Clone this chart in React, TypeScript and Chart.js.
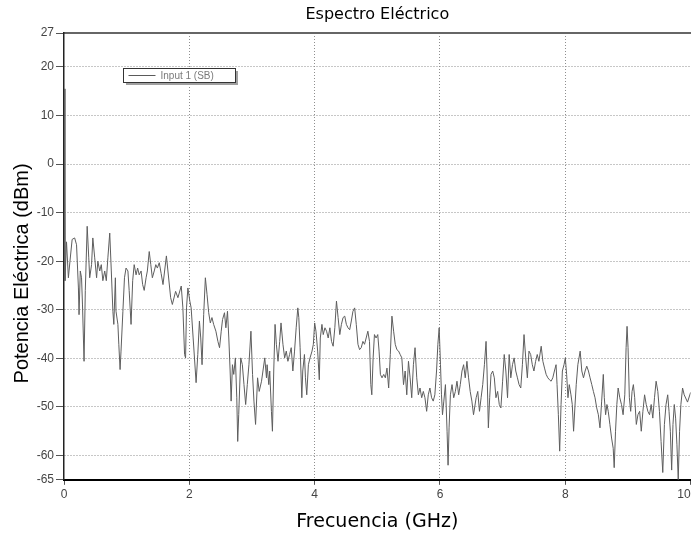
import React, { useEffect, useRef } from 'react';
import { Chart, registerables } from 'chart.js';

Chart.register(...registerables);

const chartTitle = 'Espectro Eléctrico';
const xAxisTitle = 'Frecuencia (GHz)';
const yAxisTitle = 'Potencia Eléctrica (dBm)';
const seriesName = 'Input 1 (SB)';

const xTickValues = [0, 2, 4, 6, 8, 10];
const yTickValues = [27, 20, 10, 0, -10, -20, -30, -40, -50, -60, -65];

const freqGHz = [
  0.0, 0.015, 0.04, 0.07, 0.095, 0.13, 0.17, 0.2, 0.23, 0.24, 0.26, 0.28, 0.295, 0.32, 0.34, 0.37, 0.395, 0.41, 0.44, 0.46,
  0.49, 0.52, 0.54, 0.57, 0.595, 0.62, 0.65, 0.675, 0.7, 0.73, 0.755, 0.78, 0.795, 0.82, 0.83, 0.86, 0.875, 0.895, 0.91, 0.94,
  0.965, 0.99, 1.02, 1.04, 1.07, 1.096, 1.12, 1.15, 1.175, 1.2, 1.23, 1.255, 1.28, 1.31, 1.33, 1.36, 1.385, 1.41, 1.44, 1.465,
  1.49, 1.52, 1.55, 1.58,
  1.634, 1.702, 1.729, 1.781, 1.818, 1.871, 1.897, 1.924, 1.94, 1.955, 1.977, 2.008, 2.029, 2.061, 2.108, 2.135, 2.161, 2.182,
  2.203, 2.229, 2.256, 2.282, 2.309, 2.335, 2.361, 2.388, 2.424, 2.456, 2.482, 2.509, 2.53, 2.561, 2.583, 2.609, 2.63, 2.651,
  2.667, 2.688, 2.709, 2.735, 2.757, 2.772, 2.788, 2.82, 2.846, 2.872, 2.899, 2.925, 2.951, 2.983, 3.009, 3.031, 3.057, 3.089,
  3.115, 3.152, 3.204, 3.231,
  3.241, 3.268, 3.283, 3.31, 3.326, 3.347, 3.368, 3.389, 3.415, 3.442, 3.463, 3.494, 3.521, 3.547, 3.573, 3.6, 3.626, 3.652,
  3.679, 3.705, 3.731, 3.747, 3.768, 3.795, 3.81, 3.837, 3.853, 3.874, 3.9, 3.926, 3.958, 3.979, 4.0, 4.021, 4.048, 4.074,
  4.09, 4.116, 4.137, 4.164, 4.19, 4.216, 4.243, 4.269, 4.295, 4.322, 4.348, 4.374, 4.401, 4.427, 4.453, 4.48, 4.506, 4.532,
  4.559, 4.585, 4.611, 4.638, 4.664, 4.691, 4.717, 4.743, 4.77, 4.796, 4.822, 4.849, 4.875, 4.896,
  4.912, 4.933, 4.954, 4.98, 5.007, 5.028, 5.049, 5.075, 5.102, 5.128, 5.154, 5.181, 5.207, 5.233, 5.26, 5.286, 5.312, 5.339,
  5.365, 5.391, 5.418, 5.444, 5.47, 5.497, 5.523, 5.549, 5.576, 5.602, 5.629, 5.655, 5.681, 5.708, 5.734, 5.76, 5.787, 5.813,
  5.839, 5.866, 5.892, 5.918, 5.945, 5.966, 5.987, 6.008, 6.024, 6.04, 6.061, 6.087, 6.113, 6.129, 6.145, 6.166, 6.192, 6.219,
  6.245, 6.271, 6.298, 6.324, 6.351, 6.377, 6.403, 6.43, 6.456, 6.482, 6.509, 6.535,
  6.577, 6.603, 6.63, 6.656, 6.682, 6.709, 6.735, 6.751, 6.772, 6.793, 6.814, 6.841, 6.867, 6.893, 6.92, 6.946, 6.972, 6.999,
  7.025, 7.051, 7.078, 7.104, 7.13, 7.157, 7.183, 7.209, 7.236, 7.262, 7.289, 7.315, 7.341, 7.368, 7.394, 7.42, 7.447, 7.473,
  7.499, 7.526, 7.552, 7.578, 7.615, 7.642, 7.668, 7.694, 7.721, 7.747, 7.773, 7.8, 7.826, 7.852, 7.868, 7.889, 7.91, 7.932,
  7.953, 7.979, 8.0, 8.021, 8.042, 8.063, 8.09, 8.111, 8.132, 8.153, 8.174, 8.2, 8.237,
  8.263, 8.29, 8.316, 8.342, 8.369, 8.395, 8.422, 8.448, 8.474, 8.501, 8.527, 8.553, 8.58, 8.606, 8.622, 8.643, 8.664, 8.685,
  8.711, 8.738, 8.764, 8.78, 8.801, 8.822, 8.843, 8.869, 8.896, 8.922, 8.949, 8.97, 8.985, 9.001, 9.022, 9.043, 9.065, 9.086,
  9.107, 9.133, 9.159, 9.186, 9.212, 9.238, 9.265, 9.291, 9.317, 9.344, 9.37, 9.396, 9.423, 9.449, 9.476, 9.502, 9.528, 9.555,
  9.581, 9.607, 9.634, 9.655, 9.676, 9.697, 9.718, 9.739, 9.76, 9.781, 9.802, 9.823, 9.844, 9.871, 9.897, 9.95, 10.0,
];

const powerDbm = [
  15.5, -24, -16, -23.4, -20, -15.5, -15.2, -16.6, -25.5, -31, -22, -23.4, -29, -40.6, -26, -12.8, -19.3, -23.4, -20.7, -15.2,
  -19.3, -23.4, -20, -22, -20.7, -24, -22, -24, -19.3, -14.2, -22, -30.3, -33, -23.4, -30.3, -33, -37.2, -42.3, -38.5, -30.3,
  -23.4, -21.4, -22, -26, -33, -24, -20.7, -22.8, -21.4, -22.8, -22, -24.8, -26, -23.4, -22, -18, -20.7, -23.4, -22, -20.7,
  -21.4, -20.3, -22.5, -24.8,
  -18.9, -27.5, -28.9, -26.2, -27.5, -25.1, -29.6, -39.2, -39.9, -29.6, -25.5, -28.2, -29.6, -35.8, -45.0, -39.2, -32.3, -35.8,
  -41.3, -31.0, -23.4, -26.8, -30.6, -32.7, -31.6, -33.0, -34.4, -36.5, -37.8, -34.4, -32.0, -30.6, -33.7, -30.3, -35.8, -42.6,
  -48.8, -41.3, -43.3, -39.9, -48.1, -57.1, -51.6, -39.9, -41.3, -45.4, -49.5, -45.4, -41.3, -34.4, -43.3, -48.8, -53.6, -44.0,
  -46.8, -44.7, -39.9, -44.0,
  -41.3, -45.4, -42.6, -50.9, -55.0, -42.6, -33.0, -37.1, -40.6, -36.5, -32.7, -37.1, -39.9, -38.5, -40.6, -39.2, -37.8, -42.6,
  -38.5, -33.7, -29.6, -31.6, -37.8, -48.1, -42.6, -39.2, -44.0, -47.5, -41.3, -39.9, -38.5, -37.1, -32.7, -34.4, -38.5, -44.4,
  -35.8, -33.0, -35.1, -33.7, -34.4, -35.8, -33.7, -36.5, -37.5, -33.7, -28.2, -31.6, -35.1, -33.0, -31.6, -31.3, -33.0, -33.7,
  -34.1, -32.3, -30.3, -29.6, -33.0, -37.1, -38.2, -37.8, -36.5, -37.1, -35.8, -34.4, -36.5, -45.4,
  -47.5, -39.9, -35.1, -35.8, -35.1, -38.5, -43.3, -44.0, -43.3, -44.0, -42.0, -46.1, -39.2, -31.3, -34.4, -37.1, -38.2, -38.5,
  -39.2, -39.9, -45.4, -42.6, -47.5, -40.6, -44.0, -48.1, -41.3, -37.8, -44.0, -47.5, -46.1, -48.1, -46.8, -48.1, -50.9, -47.5,
  -46.1, -48.1, -48.8, -47.5, -42.6, -37.1, -33.7, -41.3, -47.5, -51.6, -48.8, -45.4, -55.0, -62.0, -54.3, -47.5, -45.4, -48.1,
  -46.8, -44.7, -47.5, -45.4, -42.6, -41.3, -44.0, -40.6, -44.0, -46.8, -48.8, -51.6,
  -48.1, -46.8, -50.9, -48.1, -45.4, -41.3, -36.5, -42.6, -54.3, -48.1, -43.3, -42.6, -44.0, -48.1, -46.8, -49.5, -50.2, -44.7,
  -39.2, -42.6, -48.1, -39.2, -44.0, -41.3, -39.9, -42.6, -44.0, -45.4, -46.1, -41.3, -35.1, -39.9, -44.0, -38.5, -39.2, -41.3,
  -42.6, -40.6, -39.2, -40.6, -37.5, -40.6, -42.0, -43.3, -44.0, -44.4, -44.7, -44.0, -42.6, -41.3, -45.4, -51.6, -59.1, -49.5,
  -42.6, -41.3, -39.9, -43.3, -48.1, -45.4, -47.5, -49.5, -55.0, -50.0, -45.4, -41.3, -38.5,
  -42.6, -44.0, -42.6, -41.6, -42.6, -44.0, -45.4, -46.8, -48.1, -50.2, -51.6, -54.3, -48.8, -43.3, -48.1, -51.6, -49.5, -50.9,
  -53.6, -56.4, -58.5, -62.5, -55.0, -49.5, -46.1, -48.1, -49.5, -51.6, -47.5, -37.8, -33.4, -37.8, -48.1, -50.9, -46.8, -45.4,
  -48.1, -53.6, -51.6, -50.9, -55.0, -50.9, -47.5, -49.5, -50.9, -51.6, -49.5, -52.3, -48.1, -44.7, -46.8, -50.9, -57.1, -63.5,
  -53.6, -49.5, -47.5, -50.9, -55.0, -63.0, -53.6, -49.5, -52.3, -57.8, -65.0, -55.0, -49.5, -46.1, -47.5, -49.0, -47.0,
];

const TRANSPARENT = 'rgba(0,0,0,0)';
const GRID_COLOR = '#8e8e8e';
const FIGURE_SPACE = '\u2007';

const insideLegend = {
  id: 'insideLegend',
  afterDraw(chart: any) {
    const { ctx, chartArea } = chart;
    const x = Math.round(chartArea.left + 59) + 0.5;
    const y = Math.round(chartArea.top + 35) + 0.5;
    const w = 112;
    const h = 14;
    ctx.save();
    ctx.fillStyle = '#a0a0a0';
    ctx.fillRect(x + 2.5, y + 2.5, w, h);
    ctx.fillStyle = '#ffffff';
    ctx.fillRect(x, y, w, h);
    ctx.strokeStyle = '#333333';
    ctx.lineWidth = 1;
    ctx.strokeRect(x, y, w, h);
    ctx.strokeStyle = '#5a5a5a';
    ctx.beginPath();
    ctx.moveTo(x + 5, y + 7);
    ctx.lineTo(x + 32, y + 7);
    ctx.stroke();
    ctx.fillStyle = '#7a7a7a';
    ctx.font = '10px "Liberation Sans", Arial, sans-serif';
    ctx.textBaseline = 'middle';
    ctx.textAlign = 'left';
    ctx.fillText(seriesName, x + 37, y + 7.5);
    ctx.restore();
  },
};

const yTitlePlugin = {
  id: 'yTitlePlugin',
  afterDraw(chart: any) {
    const { ctx, chartArea } = chart;
    ctx.save();
    ctx.translate(22, (chartArea.top + chartArea.bottom) / 2 + 17);
    ctx.rotate(-Math.PI / 2);
    ctx.font = '20px "Liberation Sans", Arial, sans-serif';
    ctx.fillStyle = '#000000';
    ctx.textAlign = 'center';
    ctx.textBaseline = 'middle';
    ctx.fillText(yAxisTitle, 0, 0);
    ctx.restore();
  },
};

export default function App() {
  const canvasRef = useRef<HTMLCanvasElement | null>(null);

  useEffect(() => {
    document.documentElement.style.overflow = 'hidden';
    document.body.style.overflow = 'hidden';
    const canvas = canvasRef.current;
    if (!canvas) return;
    const tickFont = { family: '"Liberation Sans", Arial, sans-serif', size: 12 };
    const lastX = xTickValues[xTickValues.length - 1];
    const chart = new Chart(canvas, {
      type: 'line',
      data: {
        datasets: [
          {
            label: seriesName,
            data: freqGHz.map((f, i) => ({ x: f, y: powerDbm[i] })),
            borderColor: '#5e5e5e',
            borderWidth: 1,
            pointRadius: 0,
            fill: false,
            tension: 0,
          },
        ],
      },
      options: {
        animation: false,
        responsive: false,
        devicePixelRatio: 1,
        layout: { padding: { top: 2, left: 2, right: 0, bottom: 0 } },
        plugins: {
          legend: { display: false },
          tooltip: { enabled: false },
          title: { display: false },
        },
        scales: {
          x: {
            type: 'linear',
            position: 'bottom',
            min: 0,
            max: 10,
            afterBuildTicks: (s: any) => {
              s.ticks = xTickValues.map((v) => ({ value: v }));
            },
            ticks: {
              color: '#444444',
              font: tickFont,
              padding: 3,
              maxRotation: 0,
              autoSkip: false,
              callback: (v: any) => (v === lastX ? String(v) + FIGURE_SPACE + FIGURE_SPACE : String(v)),
            },
            grid: {
              color: (c: any) =>
                c.tick && (c.tick.value === 0 || c.tick.value === 10) ? TRANSPARENT : GRID_COLOR,
              tickColor: '#555555',
              tickLength: 5,
              tickBorderDash: [],
            },
            border: { color: '#000000', width: 2, dash: [1, 2] },
            title: {
              display: true,
              text: xAxisTitle,
              color: '#000000',
              font: { family: '"DejaVu Sans", sans-serif', size: 19 },
              padding: { top: 5, bottom: 3 },
            },
          },
          xTop: {
            axis: 'x',
            type: 'linear',
            position: 'top',
            min: 0,
            max: 10,
            ticks: { display: false },
            grid: { display: false, drawTicks: false },
            border: { display: true, color: '#666666', width: 2 },
            title: {
              display: true,
              text: chartTitle,
              color: '#000000',
              font: { family: '"DejaVu Sans", sans-serif', size: 16 },
              padding: { top: 3, bottom: 8.8 },
            },
          },
          y: {
            type: 'linear',
            min: -65,
            max: 27,
            afterBuildTicks: (s: any) => {
              s.ticks = yTickValues.map((v) => ({ value: v }));
            },
            afterFit: (s: any) => {
              s.width = 62;
            },
            ticks: { color: '#444444', font: tickFont, padding: 2, autoSkip: false },
            grid: {
              color: (c: any) =>
                c.tick && (c.tick.value === 27 || c.tick.value === -65) ? TRANSPARENT : GRID_COLOR,
              tickColor: '#555555',
              tickLength: 8,
              tickBorderDash: [],
            },
            border: { color: '#222222', width: 1.5, dash: [1, 2] },
          },
        },
      } as any,
      plugins: [insideLegend, yTitlePlugin],
    });
    return () => chart.destroy();
  }, []);

  return (
    <div style={{ position: 'fixed', left: 0, top: 0, width: 707, height: 536, background: '#ffffff' }}>
      <canvas ref={canvasRef} width={707} height={536} style={{ display: 'block' }} />
    </div>
  );
}
